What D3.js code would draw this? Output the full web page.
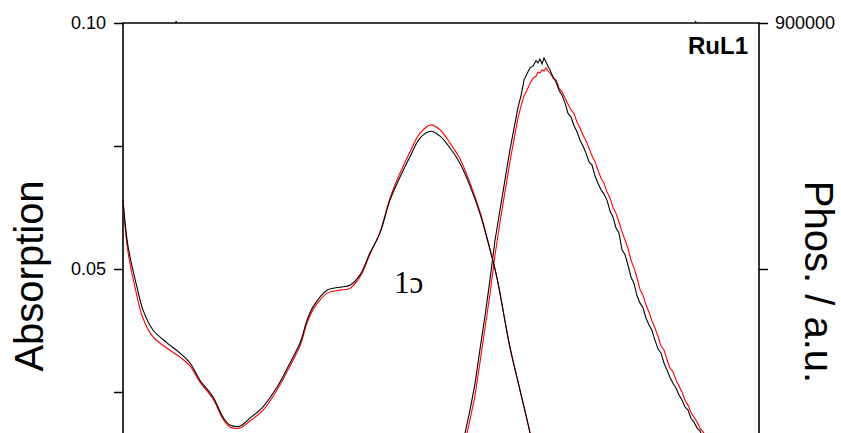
<!DOCTYPE html>
<html>
<head>
<meta charset="utf-8">
<script src="https://cdn.jsdelivr.net/npm/d3@7"></script>
<style>
  html, body { margin: 0; padding: 0; background: #fff; }
  #chart svg { display: block; overflow: hidden; }
</style>
</head>
<body>
<div id="chart"></div>
<script>
// plot box: left axis at 123, right axis at 759, top at 23; the bottom is cut off by the picture
const margin = { top: 23, right: 82, bottom: 0, left: 123 };
const width = 636;
const height = 492;

// absorption spectra (black / red), wavelength in nm
const absWl = [300.0, 303.9, 311.0, 315.7, 323.6, 334.6, 344.8, 352.7, 360.5, 370.8, 378.6, 384.1, 392.0, 399.8,
  410.1, 421.1, 431.3, 439.2, 444.7, 449.4, 460.4, 470.6, 478.5, 486.3, 494.2, 502.0, 509.9, 517.8, 525.6,
  533.5, 542.1, 549.2, 557.1, 564.9, 572.8, 580.7, 588.5, 594.0, 604.2, 612.1, 620.0, 626.3];
const absBlack = [0.0640, 0.0547, 0.0463, 0.0417, 0.0376, 0.0350, 0.0329, 0.0309, 0.0274, 0.0240, 0.0199, 0.0183,
  0.0181, 0.0197, 0.0220, 0.0260, 0.0309, 0.0350, 0.0396, 0.0423, 0.0457, 0.0463, 0.0467, 0.0488, 0.0533, 0.0573,
  0.0640, 0.0687, 0.0728, 0.0766, 0.0780, 0.0770, 0.0746, 0.0715, 0.0669, 0.0612, 0.0539, 0.0482,
  0.0341, 0.0254, 0.0167, 0.0091];
const absRed = [0.0640, 0.0535, 0.0445, 0.0400, 0.0362, 0.0339, 0.0321, 0.0303, 0.0270, 0.0236, 0.0195, 0.0179,
  0.0177, 0.0191, 0.0213, 0.0254, 0.0303, 0.0344, 0.0390, 0.0417, 0.0451, 0.0457, 0.0461, 0.0484, 0.0530, 0.0575,
  0.0644, 0.0695, 0.0738, 0.0776, 0.0793, 0.0783, 0.0756, 0.0724, 0.0675, 0.0616, 0.0541, 0.0482,
  0.0341, 0.0254, 0.0167, 0.0091];

// phosphorescence spectra (black / red)
const emWl = [561.0, 564.9, 568.9, 572.8, 576.7, 580.7, 584.6, 588.5, 592.5, 596.4, 600.3, 604.2, 608.2,
  610.5, 612.9, 615.3, 617.6, 620.0, 622.3, 624.7,
  626.3, 627.8, 629.4, 631.0, 632.5, 634.1, 635.7,
  638.1, 640.4, 642.8, 645.1, 647.5, 649.8, 652.2, 654.6, 656.9, 659.3,
  661.6, 664.0, 666.4, 668.7, 671.1, 673.4, 675.8, 678.1, 680.5, 682.9,
  685.2, 687.6, 689.9, 692.3, 694.7, 697.0, 699.4, 701.7, 704.1, 706.4,
  708.8, 711.2, 713.5, 715.9, 718.2, 720.6, 723.0, 725.3, 727.7, 730.0,
  732.4, 734.8, 737.1, 739.5, 741.8, 744.2, 746.5, 748.9, 751.3, 753.6,
  756.0, 758.3];
const emBlack = [64000, 108000, 150000, 192000, 240000, 304000, 364000, 430000, 503000, 558000, 613000, 668000, 717000,
  745000, 767000, 796000, 807000, 818000, 821000, 831000,
  827000, 834000, 825000, 836000, 829000, 821000, 814000,
  801000, 792000, 777000, 768000, 754000, 735000, 728000, 712000, 701000, 686000,
  675000, 662000, 646000, 640000, 620000, 607000, 595000, 587000, 576000, 556000,
  545000, 525000, 516000, 485000, 476000, 457000, 435000, 424000, 401000, 388000,
  379000, 360000, 348000, 337000, 320000, 304000, 296000, 278000, 265000, 252000,
  241000, 232000, 220000, 210000, 198000, 192000, 177000, 170000, 159000, 154000,
  141000, 128000];
const emRed = [55000, 93000, 134000, 174000, 218000, 280000, 342000, 404000, 476000, 536000, 591000, 646000, 697000,
  726000, 748000, 767000, 777000, 790000, 799000, 803000,
  810000, 809000, 814000, 812000, 818000, 812000, 809000,
  799000, 796000, 781000, 774000, 763000, 752000, 741000, 734000, 719000, 708000,
  695000, 684000, 671000, 657000, 646000, 631000, 616000, 607000, 591000, 580000,
  563000, 552000, 536000, 518000, 503000, 488000, 466000, 452000, 434000, 413000,
  402000, 384000, 371000, 355000, 342000, 327000, 309000, 302000, 284000, 269000,
  262000, 247000, 236000, 225000, 210000, 201000, 188000, 179000, 170000, 159000,
  152000, 145000];

// ticks
const leftTicks = [0.025, 0.05, 0.075, 0.10];
const leftLabels = { 0.05: '0.05', 0.1: '0.10' };
const rightTicks = [450000, 900000];
const rightLabels = { 900000: '900000' };
const topTicks = [341.4, 749.7];

const xDomain = [300, 800];

const svg = d3
  .select('#chart')
  .append('svg')
  .attr('width', 841)
  .attr('height', 433)
  .append('g')
  .attr('transform', `translate(${margin.left},${margin.top})`);

const xScale = d3.scaleLinear().domain(xDomain).range([0, width]);
const yLeft = d3.scaleLinear().domain([0, 0.10]).range([height, 0]);
const yRight = d3.scaleLinear().domain([0, 900000]).range([height, 0]);

const font = '"Liberation Sans", Arial, sans-serif';

// axes
const leftAxis = svg.append('g')
  .call(d3.axisLeft(yLeft).tickValues(leftTicks).tickSize(9).tickPadding(8)
    .tickFormat((d) => leftLabels[d] || ''));

const rightAxis = svg.append('g')
  .attr('transform', `translate(${width},0)`)
  .call(d3.axisRight(yRight).tickValues(rightTicks).tickSize(9).tickPadding(7)
    .tickFormat((d) => rightLabels[d] || ''));

const topAxis = svg.append('g')
  .call(d3.axisTop(xScale).tickValues(topTicks).tickSize(2).tickFormat(''));

[leftAxis, rightAxis, topAxis].forEach((g) => {
  g.select('.domain').remove();
  g.selectAll('line').attr('stroke', '#000').attr('stroke-width', 1.5);
  g.selectAll('text')
    .style('font-family', font)
    .style('font-size', '18px')
    .attr('fill', '#000');
});

// frame (left, top, right)
svg.append('path')
  .attr('d', `M0,${height + 10}V0H${width}V${height + 10}`)
  .attr('fill', 'none')
  .attr('stroke', '#000')
  .attr('stroke-width', 1.6);

// curves
const absLine = (vals) => d3.line()
  .x((d, i) => xScale(absWl[i]))
  .y((d) => yLeft(d))
  .curve(d3.curveCatmullRom.alpha(0.5))(vals);

const emLine = (vals) => d3.line()
  .x((d, i) => xScale(emWl[i]))
  .y((d) => yRight(d))(vals);

const series = [
  { d: emLine(emRed), color: '#ff0000' },
  { d: emLine(emBlack), color: '#000' },
  { d: absLine(absRed), color: '#ff0000' },
  { d: absLine(absBlack), color: '#000' }
];

svg.selectAll('.spec')
  .data(series)
  .join('path')
  .attr('class', 'spec')
  .attr('d', (s) => s.d)
  .attr('fill', 'none')
  .attr('stroke', (s) => s.color)
  .attr('stroke-width', 1.1);

// labels
svg.append('text')
  .attr('x', width - 11)
  .attr('y', 31)
  .attr('text-anchor', 'end')
  .style('font-family', font)
  .style('font-size', '24px')
  .style('font-weight', 'bold')
  .text('RuL1');

svg.append('text')
  .attr('x', 271)
  .attr('y', 270)
  .style('font-family', '"Liberation Serif", "DejaVu Serif", serif')
  .style('font-size', '31px')
  .text('1ɔ');

svg.append('text')
  .attr('transform', `translate(${43 - margin.left},${276 - margin.top}) rotate(-90)`)
  .attr('text-anchor', 'middle')
  .style('font-family', font)
  .style('font-size', '40px')
  .text('Absorption');

svg.append('text')
  .attr('transform', `translate(${805 - margin.left},${282 - margin.top}) rotate(90)`)
  .attr('text-anchor', 'middle')
  .style('font-family', font)
  .style('font-size', '40px')
  .text('Phos. / a.u.');
</script>
</body>
</html>
